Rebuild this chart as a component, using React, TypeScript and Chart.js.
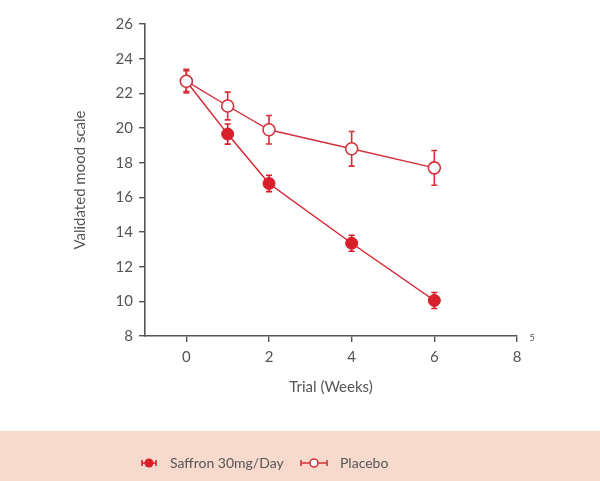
import React, { useEffect, useRef } from "react";
import { Chart, registerables } from "chart.js";

Chart.register(...registerables);

const weeks = [0, 1, 2, 4, 6];
const saffronMean = [22.7, 19.65, 16.8, 13.35, 10.05];
const saffronErr = [0.6, 0.58, 0.47, 0.46, 0.46];
const placeboMean = [22.7, 21.27, 19.9, 18.8, 17.7];
const placeboErr = [0.68, 0.8, 0.82, 1.0, 1.0];
const xTicks = [0, 2, 4, 6, 8];
const seriesNames = ["Saffron 30mg/Day", "Placebo"];
const xTitle = "Trial (Weeks)";
const yTitle = "Validated mood scale";
const footnote = "5";

const RED = "#d81f2a";
const RED2 = "#d3323a";
const GREY = "#555555";
const FONT = "Lato, 'Open Sans', sans-serif";

const errorBarPlugin = {
  id: "errorBars",
  beforeDatasetsDraw(chart: any) {
    const { ctx, scales } = chart;
    const sets = [
      { m: saffronMean, e: saffronErr, c: RED },
      { m: placeboMean, e: placeboErr, c: RED2 },
    ];
    ctx.save();
    ctx.lineWidth = 1.6;
    sets.forEach((s) => {
      ctx.strokeStyle = s.c;
      weeks.forEach((w, i) => {
        const x = scales.x.getPixelForValue(w);
        const y1 = scales.y.getPixelForValue(s.m[i] + s.e[i]);
        const y2 = scales.y.getPixelForValue(s.m[i] - s.e[i]);
        ctx.beginPath();
        ctx.moveTo(x, y1);
        ctx.lineTo(x, y2);
        ctx.moveTo(x - 3, y1);
        ctx.lineTo(x + 3, y1);
        ctx.moveTo(x - 3, y2);
        ctx.lineTo(x + 3, y2);
        ctx.stroke();
      });
    });
    ctx.restore();
  },
};

const decorPlugin = {
  id: "decor",
  beforeDraw(chart: any) {
    const { ctx } = chart;
    ctx.save();
    ctx.fillStyle = "#f6dace";
    ctx.fillRect(0, 431, chart.width, chart.height - 431);
    ctx.restore();
  },
  afterDraw(chart: any) {
    const { ctx, chartArea } = chart;
    ctx.save();
    ctx.fillStyle = GREY;
    ctx.font = `15px ${FONT}`;
    ctx.textAlign = "center";
    ctx.textBaseline = "middle";
    ctx.fillText(xTitle, (chartArea.left + chartArea.right) / 2, 387);
    ctx.save();
    ctx.translate(80, (chartArea.top + chartArea.bottom) / 2);
    ctx.rotate(-Math.PI / 2);
    ctx.fillText(yTitle, 0, 0);
    ctx.restore();
    ctx.font = `9px ${FONT}`;
    ctx.fillText(footnote, chartArea.right + 15, chartArea.bottom + 2);

    // legend
    const ly = 463;
    ctx.lineWidth = 1.6;
    // saffron icon
    ctx.strokeStyle = RED;
    ctx.fillStyle = RED;
    ctx.beginPath();
    ctx.moveTo(142, ly);
    ctx.lineTo(156, ly);
    ctx.moveTo(142, ly - 3);
    ctx.lineTo(142, ly + 3);
    ctx.moveTo(156, ly - 3);
    ctx.lineTo(156, ly + 3);
    ctx.stroke();
    ctx.beginPath();
    ctx.arc(149, ly, 4.5, 0, Math.PI * 2);
    ctx.fill();
    // placebo icon
    ctx.strokeStyle = RED2;
    ctx.beginPath();
    ctx.moveTo(301, ly);
    ctx.lineTo(310, ly);
    ctx.moveTo(318, ly);
    ctx.lineTo(327, ly);
    ctx.moveTo(301, ly - 3);
    ctx.lineTo(301, ly + 3);
    ctx.moveTo(327, ly - 3);
    ctx.lineTo(327, ly + 3);
    ctx.stroke();
    ctx.beginPath();
    ctx.arc(314, ly, 4, 0, Math.PI * 2);
    ctx.fillStyle = "#ffffff";
    ctx.fill();
    ctx.stroke();

    ctx.fillStyle = GREY;
    ctx.font = `14px ${FONT}`;
    ctx.textAlign = "left";
    ctx.fillText(seriesNames[0], 170, ly);
    ctx.fillText(seriesNames[1], 340, ly);
    ctx.restore();
  },
};

export default function App() {
  const ref = useRef<HTMLCanvasElement | null>(null);
  useEffect(() => {
    if (!ref.current) return;
    const chart = new Chart(ref.current, {
      type: "scatter",
      data: {
        datasets: [
          {
            label: seriesNames[0],
            data: weeks.map((w, i) => ({ x: w, y: saffronMean[i] })),
            showLine: true,
            borderColor: RED,
            backgroundColor: RED,
            borderWidth: 1.4,
            pointRadius: 6,
            pointBorderWidth: 1,
            pointBackgroundColor: RED,
            pointBorderColor: RED,
            order: 1,
          },
          {
            label: seriesNames[1],
            data: weeks.map((w, i) => ({ x: w, y: placeboMean[i] })),
            showLine: true,
            borderColor: RED2,
            backgroundColor: "#ffffff",
            borderWidth: 1.4,
            pointRadius: 6,
            pointBorderWidth: 1.6,
            pointBackgroundColor: "#ffffff",
            pointBorderColor: RED2,
            order: 0,
          },
        ],
      },
      options: {
        animation: false,
        responsive: false,
        layout: { padding: { left: 0, top: 24, right: 83, bottom: 0 } },
        plugins: { legend: { display: false }, tooltip: { enabled: false } },
        scales: {
          x: {
            type: "linear",
            min: -1,
            max: 8,
            afterBuildTicks: (s: any) => {
              s.ticks = xTicks.map((v) => ({ value: v }));
            },
            afterFit: (s: any) => {
              s.height = 481 - 336;
            },
            grid: { drawOnChartArea: false, drawTicks: true, tickLength: 6, color: GREY, lineWidth: 1.4 },
            border: { display: true, color: GREY, width: 1.6 },
            ticks: { color: GREY, font: { family: FONT, size: 15 }, padding: 6 },
          },
          y: {
            min: 8,
            max: 26,
            ticks: { stepSize: 2, color: GREY, font: { family: FONT, size: 15 }, padding: 6 },
            afterFit: (s: any) => {
              s.width = 145;
            },
            grid: { drawOnChartArea: false, drawTicks: true, tickLength: 6, color: GREY, lineWidth: 1.4 },
            border: { display: true, color: GREY, width: 1.6 },
          },
        },
      },
      plugins: [errorBarPlugin, decorPlugin],
    });
    return () => chart.destroy();
  }, []);
  return (
    <div style={{ position: "fixed", left: 0, top: 0, width: 600, height: 481, background: "#ffffff" }}>
      <canvas ref={ref} width={600} height={481} style={{ width: 600, height: 481, display: "block" }} />
    </div>
  );
}
